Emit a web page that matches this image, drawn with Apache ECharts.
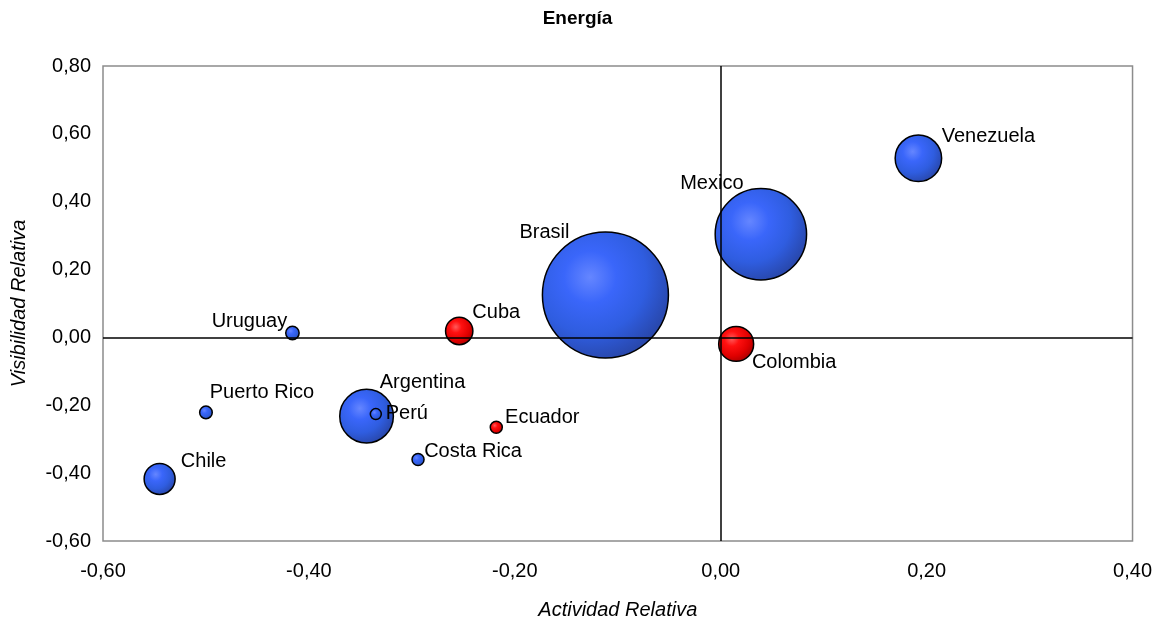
<!DOCTYPE html>
<html>
<head>
<meta charset="utf-8">
<script src="https://cdn.jsdelivr.net/npm/echarts@6/dist/echarts.min.js"></script>
<style>
  html, body { margin: 0; padding: 0; background: #fff; }
  #chart { width: 1155px; height: 626px; }
</style>
</head>
<body>
<div id="chart"></div>
<script>
// Energía: relative activity vs relative visibility, bubble size = weight
const countries = ['Brasil', 'Mexico', 'Venezuela', 'Colombia', 'Cuba', 'Uruguay',
                   'Puerto Rico', 'Argentina', 'Perú', 'Ecuador', 'Costa Rica', 'Chile'];
const actividad = [-0.112, 0.039, 0.192, 0.015, -0.254, -0.416,
                   -0.500, -0.344, -0.335, -0.218, -0.294, -0.545];
const visibilidad = [0.125, 0.304, 0.528, -0.019, 0.019, 0.013,
                     -0.221, -0.232, -0.226, -0.265, -0.360, -0.417];
const peso = [100, 52.6, 13.6, 7.7, 4.7, 1.13,
              1.0, 18.1, 0.76, 0.91, 0.91, 6.05];
const grupo = ['azul', 'azul', 'azul', 'rojo', 'rojo', 'azul',
               'azul', 'azul', 'azul', 'rojo', 'azul', 'azul'];
const xTicks = [-0.6, -0.4, -0.2, 0, 0.2, 0.4];
const yTicks = [-0.6, -0.4, -0.2, 0, 0.2, 0.4, 0.6, 0.8];

// label placement relative to each bubble centre (px)
const labelOffset = {
  'Brasil': [-61, -63], 'Mexico': [-49, -51], 'Venezuela': [70, -22],
  'Colombia': [58, 19], 'Cuba': [37, -18], 'Uruguay': [-43, -12],
  'Puerto Rico': [56, -20], 'Argentina': [56, -34], 'Perú': [31, -1],
  'Ecuador': [46, -10], 'Costa Rica': [55, -8], 'Chile': [44, -17]
};

const fills = {
  azul: { type: 'radial', x: 0.38, y: 0.36, r: 0.68, colorStops: [
    { offset: 0, color: '#6586ff' }, { offset: 0.3, color: '#3a66fa' },
    { offset: 0.65, color: '#2f5de0' }, { offset: 1, color: '#2846a8' } ] },
  rojo: { type: 'radial', x: 0.38, y: 0.36, r: 0.68, colorStops: [
    { offset: 0, color: '#ff5a5a' }, { offset: 0.3, color: '#ff1010' },
    { offset: 0.7, color: '#e00000' }, { offset: 1, color: '#a80000' } ] }
};

const R_UNIT = 6.3; // radius in px for a weight of 1
const fmt = v => v.toFixed(2).replace('.', ',');

// draw larger bubbles first so small ones stay visible on top
const order = countries.map((c, i) => i).sort((a, b) => peso[b] - peso[a]);
const data = order.map(i => ({
  name: countries[i],
  value: [actividad[i], visibilidad[i], peso[i]],
  symbolSize: 2 * R_UNIT * Math.sqrt(peso[i]),
  itemStyle: { color: fills[grupo[i]] },
  label: { offset: labelOffset[countries[i]] }
}));

const chart = echarts.init(document.getElementById('chart'));
const font = 'Liberation Sans, Arial, sans-serif';
chart.setOption({
  animation: false,
  textStyle: { fontFamily: font },
  title: {
    text: 'Energía', left: 'center', top: 4,
    textStyle: { fontFamily: font, fontSize: 19, fontWeight: 'bold', color: '#000' }
  },
  grid: { left: 103, right: 22, top: 66, bottom: 85, show: true, borderColor: '#8c8c8c', borderWidth: 1.5 },
  xAxis: {
    type: 'value', min: xTicks[0], max: xTicks[xTicks.length - 1], interval: 0.2,
    name: 'Actividad Relativa', nameLocation: 'middle', nameGap: 59,
    nameTextStyle: { fontFamily: font, fontSize: 20, fontStyle: 'italic', color: '#000' },
    axisLine: { show: false }, axisTick: { show: false }, splitLine: { show: false },
    axisLabel: { formatter: fmt, fontFamily: font, fontSize: 20, color: '#000', margin: 20 }
  },
  yAxis: {
    type: 'value', min: yTicks[0], max: yTicks[yTicks.length - 1], interval: 0.2,
    name: 'Visibilidad Relativa', nameLocation: 'middle', nameGap: 74,
    nameTextStyle: { fontFamily: font, fontSize: 20, fontStyle: 'italic', color: '#000' },
    axisLine: { show: false }, axisTick: { show: false }, splitLine: { show: false },
    axisLabel: { formatter: fmt, fontFamily: font, fontSize: 20, color: '#000', margin: 12 }
  },
  series: [{
    type: 'scatter',
    data: data,
    itemStyle: { borderColor: '#000', borderWidth: 1.5, opacity: 1 },
    label: {
      show: true, position: 'inside', formatter: '{b}',
      fontFamily: font, fontSize: 20, color: '#000'
    },
    emphasis: { disabled: true },
    // zero reference lines, drawn over the bubbles
    markLine: {
      silent: true, symbol: 'none', label: { show: false },
      lineStyle: { color: '#000', width: 1.5, type: 'solid' },
      data: [{ xAxis: 0 }, { yAxis: 0 }]
    },
    z: 2
  }]
});
</script>
</body>
</html>
